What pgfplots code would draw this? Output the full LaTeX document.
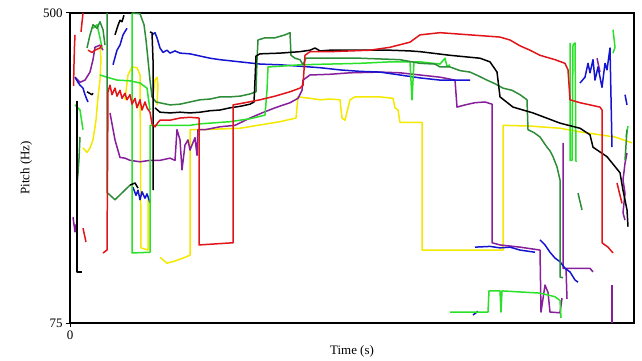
\documentclass[border=0pt]{standalone}
\usepackage{fontspec}
\setmainfont{Liberation Serif}
\usepackage{pgfplots}
\pgfplotsset{compat=1.18}
\definecolor{cR}{RGB}{225,20,25}
\definecolor{cB}{RGB}{20,20,210}
\definecolor{cDG}{RGB}{45,140,55}
\definecolor{cLG}{RGB}{40,225,40}
\definecolor{cY}{RGB}{245,232,0}
\definecolor{cP}{RGB}{135,30,155}
\begin{document}
\begin{tikzpicture}
\path[use as bounding box] (0bp,0bp) rectangle (642bp,361bp);
\begin{axis}[at={(70bp,38bp)}, anchor=south west, scale only axis,
  width=564bp, height=310bp,
  xmin=0, xmax=5.64, ymin=75, ymax=500,
  xtick={0}, ytick={75,500},
  tick align=outside, xtick pos=bottom, ytick pos=left,
  major tick length=4bp,
  tick style={line width=1bp, black},
  axis line style={line width=2.8bp, black},
  /pgf/number format/assume math mode=true,
  tick label style={font=\fontsize{13}{15}\selectfont},
  label style={font=\fontsize{13}{15}\selectfont},
  xlabel={Time (s)}, ylabel={Pitch (Hz)},
  ylabel shift=4bp, xlabel shift=-1bp,
  every axis plot/.append style={line width=1.5bp, line join=round},
]
% yellow
\addplot[cY] coordinates {(0.90,165)(0.97,157)(1.05,160)(1.15,165)(1.20,168)(1.20,340)(1.30,340)(1.70,342)(2.10,351)(2.26,356)(2.28,385)(2.40,383)(2.50,381)(2.60,382)(2.70,381)(2.72,356)(2.75,353)(2.80,381)(2.85,385)(3.10,385)(3.23,383)(3.25,370)(3.28,367)(3.30,350)(3.52,350)(3.52,175)(4.33,175)(4.33,346)(4.60,345)(4.90,342)(5.10,337)(5.30,333)(5.45,330)(5.62,322)};
\addplot[cY] coordinates {(0.55,381)(0.58,415)(0.62,426)(0.67,425)(0.70,415)(0.71,178)(0.78,175)(0.78,244)};
\addplot[cY] coordinates {(0.83,385)(0.85,408)(0.87,412)(0.88,401)(0.87,374)};
\addplot[cY] coordinates {(0.13,315)(0.17,309)(0.20,315)(0.23,326)(0.26,353)(0.28,385)(0.30,408)(0.31,436)(0.30,456)};
% purple
\addplot[cP] coordinates {(0.40,363)(0.45,326)(0.50,302)(0.55,301)(0.60,298)(0.70,296)(0.80,298)(0.90,298)(1.00,301)(1.05,298)(1.07,340)(1.10,326)(1.12,285)(1.15,319)(1.18,326)(1.20,312)(1.22,319)(1.25,329)(1.27,305)(1.28,340)(1.35,340)(1.50,344)(1.65,346)(1.80,356)(1.92,363)(2.05,370)(2.20,377)(2.28,383)(2.32,394)(2.33,408)(2.40,415)(2.60,416)(2.80,418)(3.10,419)(3.30,418)(3.50,415)(3.70,412)(3.85,408)(3.87,371)(3.95,374)(4.05,377)(4.15,378)(4.22,375)(4.22,185)(4.30,182)(4.50,179)(4.70,175)(4.71,90)(4.75,127)(4.78,117)(4.80,90)(4.90,89)(4.92,109)};
\addplot[cP] coordinates {(4.93,322)(4.93,150)(5.20,150)(5.23,145)};
\addplot[cP] coordinates {(4.96,150)(4.97,108)};
\addplot[cP] coordinates {(5.57,308)(5.55,294)(5.53,271)(5.55,253)(5.53,226)(5.55,216)};
\addplot[cP] coordinates {(5.42,127)(5.42,75)};
\addplot[cP] coordinates {(5.27,438)(5.30,419)};
\addplot[cP] coordinates {(0.05,412)(0.10,405)(0.15,408)(0.20,419)(0.23,436)(0.25,453)(0.30,456)(0.33,449)};
\addplot[cP] coordinates {(0.03,220)(0.05,200)(0.06,210)};
% blue
\addplot[cB] coordinates {(0.82,470)(0.85,473)(0.87,466)(0.90,452)(0.93,446)(0.97,449)(1.00,445)(1.05,448)(1.10,445)(1.20,444)(1.30,441)(1.40,438)(1.50,436)(1.70,433)(1.90,430)(2.10,429)(2.30,427)(2.50,425)(2.70,422)(2.90,420)(3.10,419)(3.30,415)(3.50,411)(3.70,408)(4.00,408)};
\addplot[cB] coordinates {(0.05,412)(0.08,405)(0.10,401)(0.13,397)(0.15,388)(0.17,381)(0.18,378)};
\addplot[cB] coordinates {(0.43,429)(0.47,449)(0.50,456)(0.53,470)(0.57,479)};
\addplot[cB] coordinates {(0.63,261)(0.66,250)(0.68,257)(0.70,244)(0.72,255)(0.75,246)(0.77,252)(0.80,240)};
\addplot[cB] coordinates {(4.05,179)(4.20,180)(4.30,178)(4.40,179)(4.50,175)(4.65,172)};
\addplot[cB] coordinates {(4.70,189)(4.75,182)(4.80,172)(4.85,164)(4.90,159)(4.95,150)(5.00,145)(5.05,134)(5.08,131)};
\addplot[cB] coordinates {(5.10,404)(5.15,412)(5.18,431)(5.20,418)(5.23,436)(5.25,408)(5.28,426)(5.32,398)(5.35,431)(5.37,422)(5.40,452)(5.42,316)};
\addplot[cB] coordinates {(5.55,388)(5.57,374)};
\addplot[cB] coordinates {(4.03,86)(4.08,91)};
% light green
\addplot[cLG] coordinates {(0.62,500)(0.62,171)(0.80,172)(0.80,346)(0.85,346)(1.00,346)(1.20,346)(1.30,348)(1.60,351)(1.80,355)(1.95,360)(1.97,394)(1.98,426)(2.10,427)(2.30,429)(2.60,430)(2.90,431)(3.20,433)(3.40,433)(3.42,381)(3.44,433)(3.50,433)(3.70,430)(3.75,438)(3.77,427)(3.80,429)};
\addplot[cLG] coordinates {(0.30,415)(0.37,412)(0.47,408)(0.60,407)(0.70,404)(0.77,397)(0.80,367)};
\addplot[cLG] coordinates {(5.00,459)(5.00,298)(5.02,298)(5.03,456)(5.05,459)(5.06,296)};
\addplot[cLG] coordinates {(5.43,477)(5.45,453)(5.43,445)};
\addplot[cLG] coordinates {(3.80,90)(4.18,90)(4.19,119)(4.30,119)(4.31,90)(4.32,119)(4.70,116)(4.85,111)(4.90,106)(4.91,82)};
\addplot[cLG] coordinates {(0.23,479)(0.27,484)(0.30,466)(0.32,452)};
\addplot[cLG] coordinates {(0.05,374)(0.10,367)(0.13,340)};
\addplot[cLG] coordinates {(5.56,330)(5.58,345)};
% dark green
\addplot[cDG] coordinates {(0.62,500)(0.70,499)(0.74,484)(0.76,463)(0.78,436)(0.80,408)(0.82,385)(0.86,378)(1.00,374)(1.10,375)(1.20,378)(1.30,381)(1.40,382)(1.50,385)(1.60,385)(1.70,386)(1.80,389)(1.86,392)(1.87,436)(1.88,463)(1.95,466)(2.05,466)(2.15,470)(2.20,473)(2.21,442)(2.25,438)(2.30,436)(2.33,429)(2.36,438)(2.50,438)(2.70,438)(2.90,438)(3.10,437)(3.30,436)(3.50,431)(3.65,430)(3.70,426)(3.80,426)(3.90,421)(4.00,419)(4.08,414)(4.17,408)(4.25,403)(4.33,397)(4.42,394)(4.50,388)(4.57,381)(4.58,340)(4.64,336)(4.70,330)(4.74,322)(4.77,316)(4.80,311)(4.83,303)(4.87,289)(4.90,271)(4.90,138)(4.93,137)};
\addplot[cDG] coordinates {(0.17,452)(0.20,470)(0.23,484)(0.27,479)(0.30,488)(0.33,477)(0.35,456)};
\addplot[cDG] coordinates {(0.37,500)(0.37,254)(0.45,244)(0.57,260)(0.60,264)};
\addplot[cDG] coordinates {(0.10,330)(0.09,300)(0.08,280)(0.07,265)};
\addplot[cDG] coordinates {(5.08,253)(5.12,230)};
\addplot[cDG] coordinates {(5.57,340)(5.55,298)};
% black
\addplot[black] coordinates {(0.80,474)(0.82,473)(0.83,436)(0.83,353)(0.83,257)};
\addplot[black] coordinates {(0.85,370)(0.90,364)(1.00,363)(1.10,364)(1.20,363)(1.30,364)(1.40,366)(1.50,367)(1.60,370)(1.70,372)(1.80,375)(1.84,378)(1.85,408)(1.86,441)(1.90,444)(2.10,445)(2.30,447)(2.40,449)(2.45,452)(2.50,448)(2.60,449)(2.80,449)(3.00,449)(3.20,449)(3.40,448)(3.50,447)(3.80,442)(4.10,438)(4.20,433)(4.27,419)(4.30,385)(4.43,371)(4.63,363)(4.90,349)(5.10,342)(5.20,333)(5.23,316)(5.37,303)(5.50,281)(5.53,257)(5.57,230)(5.58,207)};
\addplot[black] coordinates {(0.07,380)(0.07,300)(0.07,200)(0.07,145)(0.12,145)};
\addplot[black] coordinates {(0.17,392)(0.22,388)(0.23,390)};
\addplot[black] coordinates {(0.45,470)(0.48,483)(0.50,490)(0.52,488)(0.54,497)};
\addplot[black] coordinates {(0.60,264)(0.65,267)(0.68,260)};
% red
\addplot[cR] coordinates {(0.13,500)(0.11,474)};
\addplot[cR] coordinates {(0.05,470)(0.045,455)(0.04,430)(0.035,400)};
\addplot[cR] coordinates {(0.18,449)(0.22,446)(0.25,449)(0.30,452)(0.32,456)};
\addplot[cR] coordinates {(0.33,171)(0.37,175)(0.38,392)(0.40,401)(0.42,388)(0.45,397)(0.47,386)(0.50,394)(0.52,383)(0.55,390)(0.57,381)(0.60,388)(0.62,375)(0.65,383)(0.67,370)(0.70,381)(0.72,367)(0.75,378)(0.77,370)(0.80,364)(0.82,348)(0.85,344)(0.88,350)(0.90,353)(1.00,353)(1.10,356)(1.20,357)(1.29,356)(1.29,182)(1.63,185)(1.63,374)(1.75,377)(1.90,381)(2.05,386)(2.20,392)(2.30,397)(2.33,401)(2.35,442)(2.40,447)(2.60,447)(2.80,448)(3.00,449)(3.20,453)(3.40,460)(3.50,470)(3.70,473)(4.00,470)(4.30,467)(4.40,463)(4.50,455)(4.60,449)(4.70,442)(4.85,436)(4.95,431)(4.98,422)(5.00,381)(5.10,377)(5.30,371)(5.32,367)(5.32,185)(5.38,179)(5.43,171)};
\addplot[cR] coordinates {(0.13,205)(0.16,186)};
\addplot[cR] coordinates {(5.47,267)(5.50,250)(5.52,239)};
\end{axis}
\end{tikzpicture}
\end{document}
